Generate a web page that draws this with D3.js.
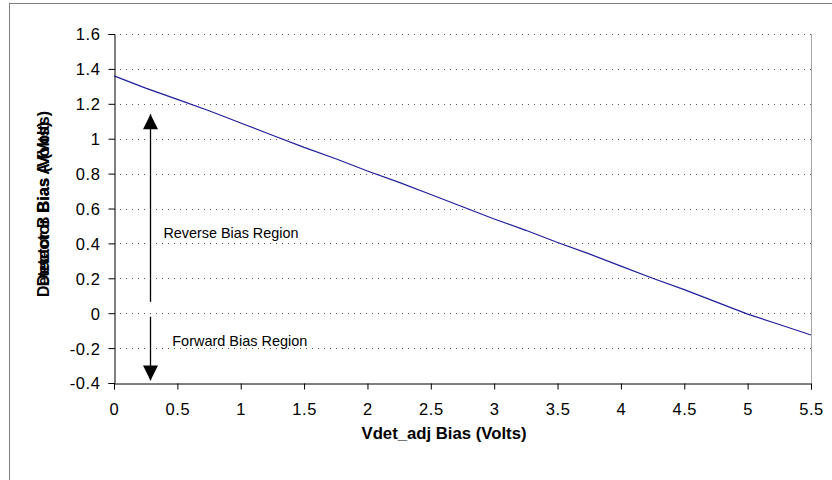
<!DOCTYPE html>
<html lang="en">
<head>
<meta charset="UTF-8">
<title>Detector Bias vs Vdet_adj Bias</title>
<script src="https://cdn.jsdelivr.net/npm/d3@7"></script>
<style>
  body { margin: 0; background: #fff; font-family: Arial, 'Liberation Sans', sans-serif; }
  svg { display: block; }
  .tick text { font-family: Arial, 'Liberation Sans', sans-serif; }
</style>
</head>
<body>
<svg id="chart" width="832" height="480"></svg>
<script>
// readings
var vdetAdj  = [0, 0.25, 0.5, 0.75, 1, 1.25, 1.5, 1.75, 2, 2.25, 2.5, 2.75, 3, 3.25, 3.5, 3.75, 4, 4.25, 4.5, 4.75, 5, 5.25, 5.5];
var detBias  = [1.36, 1.29, 1.225, 1.16, 1.09, 1.02, 0.95, 0.885, 0.815, 0.75, 0.68, 0.61, 0.54, 0.475, 0.405, 0.34, 0.27, 0.2, 0.135, 0.065, -0.005, -0.065, -0.125];
var xTicks   = [0, 0.5, 1, 1.5, 2, 2.5, 3, 3.5, 4, 4.5, 5, 5.5];
var yTicks   = [-0.4, -0.2, 0, 0.2, 0.4, 0.6, 0.8, 1, 1.2, 1.4, 1.6];
// arrows: [x, from, to]
var arrows   = [[0.285, 0.065, 1.14], [0.285, -0.02, -0.385]];
var notes    = [{ label: 'Reverse Bias Region', x: 0.39, y: 0.43 },
                { label: 'Forward Bias Region', x: 0.46, y: -0.19 }];

var svg = d3.select('#chart');
var pLeft = 114, pTop = 34, pRight = 811, pBottom = 383;

var x = d3.scaleLinear().domain([0, 5.5]).range([pLeft, pRight]);
var y = d3.scaleLinear().domain([-0.4, 1.6]).range([pBottom, pTop]);
var fmt = function (d) { return String(d); };   // keep plain hyphen minus

// outer chart frame (runs off the page at right and bottom)
svg.append('rect').attr('x', 9.5).attr('y', 3.5).attr('width', 900).attr('height', 600)
    .attr('fill', 'none').attr('stroke', '#7f7f7f').attr('stroke-width', 1);

var defs = svg.append('defs');
defs.append('marker').attr('id', 'head').attr('viewBox', '0 0 10 10')
    .attr('refX', 10).attr('refY', 5).attr('markerWidth', 16).attr('markerHeight', 15)
    .attr('markerUnits', 'userSpaceOnUse').attr('orient', 'auto')
  .append('path').attr('d', 'M0,0L10,5L0,10Z').attr('fill', '#000');

// plot border right side
svg.append('line').attr('x1', pRight + 0.5).attr('x2', pRight + 0.5).attr('y1', pTop).attr('y2', pBottom)
    .attr('stroke', '#a6a6a6');

// gridlines
svg.append('g').selectAll('line').data(yTicks.filter(function (d) { return d !== -0.4; })).join('line')
    .attr('x1', pLeft).attr('x2', pRight)
    .attr('y1', function (d) { return Math.round(y(d)) + 0.5; })
    .attr('y2', function (d) { return Math.round(y(d)) + 0.5; })
    .attr('stroke', '#555').attr('stroke-dasharray', '1,5');

// axes
var xAxis = svg.append('g').attr('transform', 'translate(0,' + (pBottom + 0.5) + ')')
    .call(d3.axisBottom(x).tickValues(xTicks).tickSize(6).tickPadding(14).tickFormat(fmt));
var yAxis = svg.append('g').attr('transform', 'translate(' + (pLeft + 0.5) + ',0)')
    .call(d3.axisLeft(y).tickValues(yTicks).tickSize(6).tickPadding(8).tickFormat(fmt));
[xAxis, yAxis].forEach(function (a) {
  a.select('.domain').attr('stroke', '#000');
  a.selectAll('.tick line').attr('stroke', '#000');
  a.selectAll('.tick text').attr('fill', '#000').style('font-size', '16.5px').style('letter-spacing', '0.6px');
});
yAxis.selectAll('.tick text').attr('dy', '0.36em');

// curve
svg.append('path')
    .datum(d3.zip(vdetAdj, detBias))
    .attr('fill', 'none').attr('stroke', '#1f1f9c').attr('stroke-width', 1.2)
    .attr('d', d3.line().x(function (d) { return x(d[0]); }).y(function (d) { return y(d[1]); }));

// region arrows
svg.append('g').selectAll('line').data(arrows).join('line')
    .attr('x1', function (d) { return Math.round(x(d[0])) + 0.5; })
    .attr('x2', function (d) { return Math.round(x(d[0])) + 0.5; })
    .attr('y1', function (d) { return y(d[1]); })
    .attr('y2', function (d) { return y(d[2]); })
    .attr('stroke', '#000').attr('stroke-width', 1.3)
    .attr('marker-end', 'url(#head)');

svg.append('g').selectAll('text').data(notes).join('text')
    .attr('x', function (d) { return x(d.x); })
    .attr('y', function (d) { return y(d.y); })
    .attr('textLength', 135).attr('lengthAdjust', 'spacingAndGlyphs')
    .style('font-size', '14.5px')
    .text(function (d) { return d.label; });

// axis titles
svg.append('text').attr('x', 444).attr('y', 439).attr('text-anchor', 'middle')
    .attr('textLength', 165).attr('lengthAdjust', 'spacingAndGlyphs')
    .style('font-size', '16px').style('font-weight', 'bold')
    .text('Vdet_adj Bias (Volts)');

var yTitle = svg.append('g').attr('transform', 'translate(49,204) rotate(-90)');
yTitle.append('text').attr('text-anchor', 'middle')
    .attr('textLength', 165).attr('lengthAdjust', 'spacingAndGlyphs')
    .style('font-size', '16px').style('font-weight', 'bold')
    .text('Detector Bias (Volts)');
yTitle.append('text').attr('text-anchor', 'middle')
    .attr('textLength', 186).attr('lengthAdjust', 'spacingAndGlyphs')
    .style('font-size', '16px').style('font-weight', 'bold')
    .text('Detector B Bias A (Volts)');
</script>
</body>
</html>
